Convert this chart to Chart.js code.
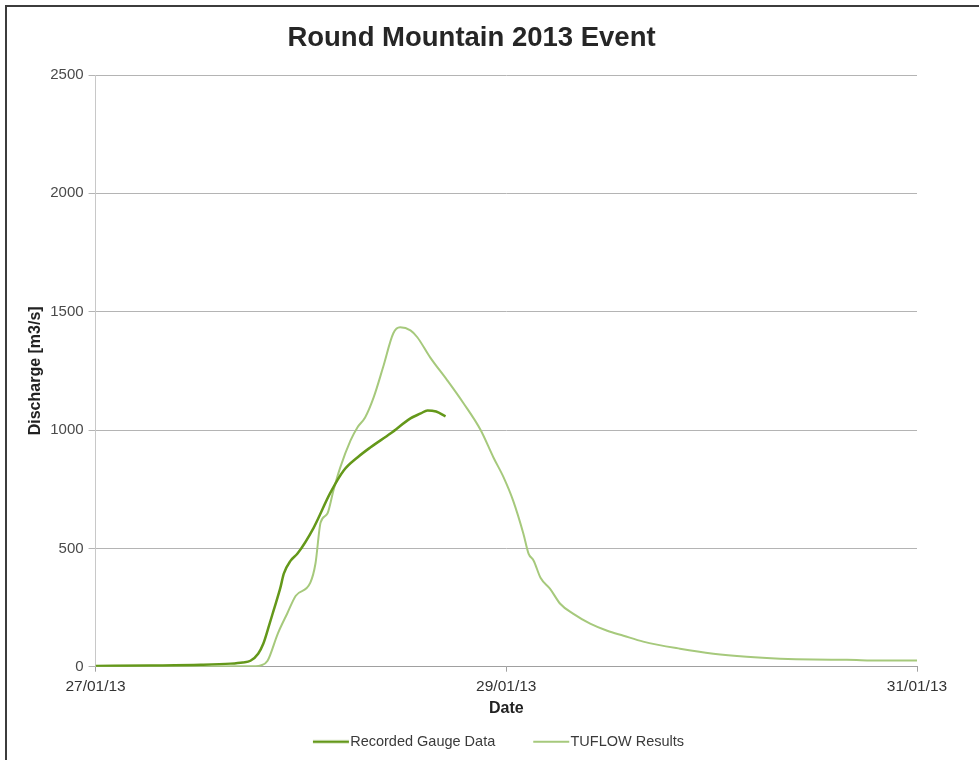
<!DOCTYPE html>
<html>
<head>
<meta charset="utf-8">
<script src="https://cdn.jsdelivr.net/npm/chart.js@4"></script>
<style>
    html, body { margin: 0; padding: 0; background: #fff; }
    #wrap { position: relative; width: 979px; height: 760px; overflow: hidden; }
    #frame {
        position: absolute; left: 5px; top: 5px; width: 1100px; height: 900px;
        border-left: 2px solid #3c3c3c; border-top: 2px solid #3c3c3c;
    }
    canvas { position: absolute; left: 0; top: 0; }
</style>
</head>
<body>
<div id="wrap">
    <div id="frame"></div>
    <canvas id="chart" width="979" height="760"></canvas>
</div>
<script>
// hours since 27/01/13 00:00
const tickHours = [0, 48, 96];
const tickLabels = ["27/01/13", "29/01/13", "31/01/13"];

const gaugeHours = [0, 6.4, 12.3, 15.8, 17.2, 18.1, 19.0, 19.6, 20.2, 20.8, 21.6, 22.0, 22.8,
    23.6, 25.5, 27.4, 29.0, 30.6, 32.1, 34.5, 36.8, 38.0, 38.8, 39.8, 40.9];
const gaugeFlow = [3, 5, 8, 13, 18, 25, 55, 97, 165, 237, 334, 393, 448,
    478, 588, 732, 829, 884, 926, 986, 1049, 1070, 1083, 1078, 1058];

const tuflowHours = [0, 18.7, 19.3, 20.1, 21.3, 22.4, 23.4, 25.1, 25.7, 26.3, 27.1, 27.8, 28.6,
    29.8, 30.6, 31.5, 32.5, 33.6, 34.8, 35.6, 36.8, 37.6, 39.1, 41.1, 43.0, 45.0, 46.5,
    47.7, 48.8, 50.0, 50.6, 51.2, 52.0, 53.1, 54.3, 55.8, 57.8, 59.8, 61.7, 64.0,
    68.3, 72.2, 76.1, 80.0, 83.9, 87.8, 91.7, 96];
const tuflowFlow = [0, 2, 5, 25, 140, 225, 300, 355, 436, 609, 647, 745, 842,
    956, 1011, 1053, 1138, 1265, 1409, 1434, 1421, 1392, 1307, 1210, 1113, 1000, 884,
    799, 702, 562, 478, 448, 376, 330, 266, 224, 182, 152, 131, 106,
    76, 55, 42, 34, 30, 29, 26, 26];

const toXY = (hs, vs) => hs.map((h, i) => ({ x: h, y: vs[i] }));

const FONT = "'Liberation Sans', Arial, sans-serif";

// legend swatch: a short line that runs right up to the label text
function legendLine(color, width) {
    const c = document.createElement("canvas");
    c.width = 44;
    c.height = 6;
    const g = c.getContext("2d");
    g.strokeStyle = color;
    g.lineWidth = width;
    g.beginPath();
    g.moveTo(7, 3);
    g.lineTo(43, 3);
    g.stroke();
    return c;
}

// legend sits under the plot area centre, not the canvas centre
const shiftLegend = {
    id: "shiftLegend",
    afterLayout(chart) {
        chart.legend.left += 27;
        chart.legend.right += 27;
    },
};

new Chart(document.getElementById("chart"), {
    type: "line",
    data: {
        datasets: [
            {
                label: "Recorded Gauge Data",
                data: toXY(gaugeHours, gaugeFlow),
                borderColor: "#64981a",
                backgroundColor: "#64981a",
                borderWidth: 2.5,
                pointRadius: 0,
                cubicInterpolationMode: "monotone",
            },
            {
                label: "TUFLOW Results",
                data: toXY(tuflowHours, tuflowFlow),
                borderColor: "#a6c97c",
                backgroundColor: "#a6c97c",
                borderWidth: 2,
                pointRadius: 0,
                cubicInterpolationMode: "monotone",
            },
        ],
    },
    plugins: [shiftLegend],
    options: {
        responsive: false,
        animation: false,
        layout: { padding: { left: 26, right: 62, top: 14, bottom: 1 } },
        plugins: {
            title: {
                display: true,
                text: "Round Mountain 2013 Event",
                color: "#262626",
                font: { family: FONT, size: 27.5, weight: "bold" },
                padding: { top: 8, bottom: 20 },
            },
            legend: {
                position: "bottom",
                labels: {
                    color: "#3a3a3a",
                    font: { family: FONT, size: 14.5 },
                    usePointStyle: true,
                    pointStyleWidth: 30,
                    padding: 38,
                    generateLabels: (chart) =>
                        Chart.defaults.plugins.legend.labels.generateLabels(chart).map((item) => {
                            const ds = chart.data.datasets[item.datasetIndex];
                            return { ...item, pointStyle: legendLine(ds.borderColor, ds.borderWidth) };
                        }),
                },
            },
            tooltip: { enabled: false },
        },
        scales: {
            x: {
                type: "linear",
                min: 0,
                max: 96,
                afterBuildTicks: (axis) => {
                    axis.ticks = tickHours.map((v) => ({ value: v }));
                },
                ticks: {
                    color: "#333",
                    font: { family: FONT, size: 15.5 },
                    maxRotation: 0,
                    padding: 6,
                    callback: (v) => tickLabels[tickHours.indexOf(v)],
                },
                grid: { drawOnChartArea: false, drawTicks: true, tickLength: 5, color: "#a0a0a0" },
                border: { color: "#a0a0a0" },
                title: {
                    display: true,
                    text: "Date",
                    color: "#222",
                    font: { family: FONT, size: 16, weight: "bold" },
                    padding: { top: -3, bottom: -22 },
                },
            },
            y: {
                min: 0,
                max: 2500,
                ticks: {
                    stepSize: 500,
                    color: "#4a4a4a",
                    font: { family: FONT, size: 15 },
                    padding: 5,
                    callback: (v) => String(v),
                },
                grid: { color: "#b4b4b4", tickLength: 7 },
                border: { color: "#c8c8c8" },
                title: {
                    display: true,
                    text: "Discharge [m3/s]",
                    color: "#222",
                    font: { family: FONT, size: 16, weight: "bold" },
                    padding: { top: 0, bottom: 0 },
                },
            },
        },
    },
});
</script>
</body>
</html>
